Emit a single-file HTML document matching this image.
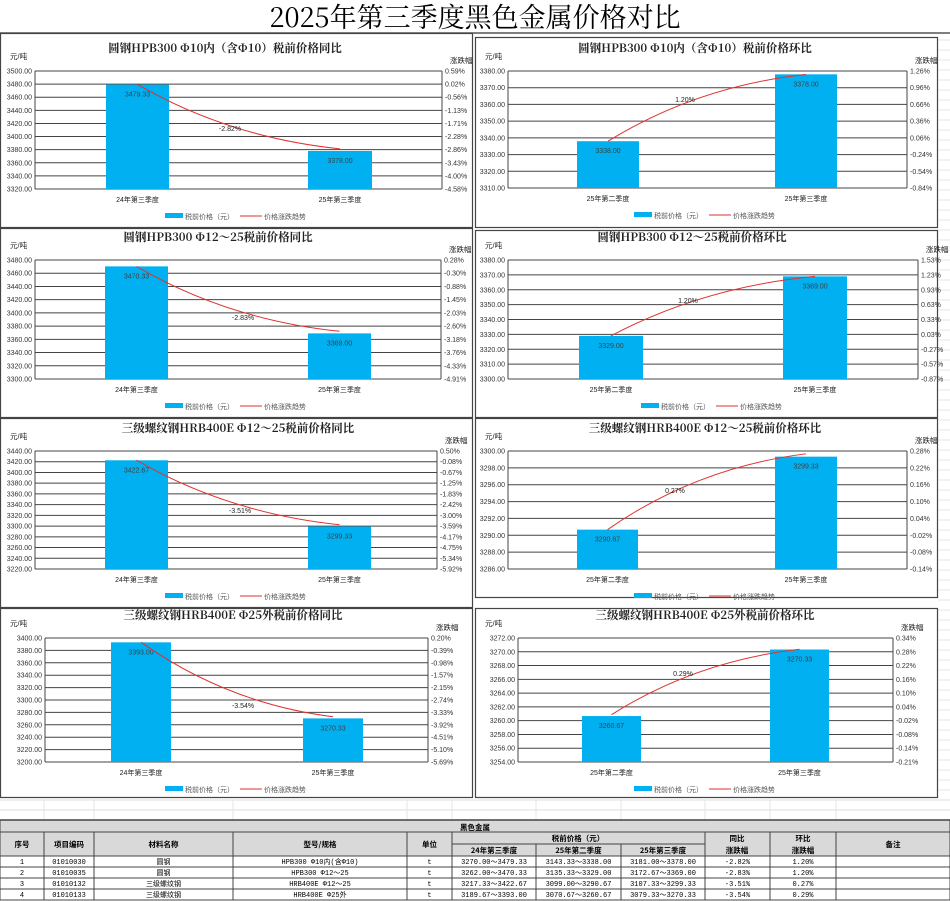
<!DOCTYPE html>
<html><head><meta charset="utf-8"><style>
body{margin:0;background:#fff;width:950px;height:901px;overflow:hidden;font-family:"Liberation Sans","Noto Sans CJK SC",sans-serif}
svg{position:absolute;left:0;top:0}
</style></head><body>
<svg id="s" width="950" height="901" xmlns="http://www.w3.org/2000/svg">
<rect width="950" height="901" fill="#fff"/>
<text x="475" y="27" text-anchor="middle" font-size="27" font-family="'Noto Serif CJK SC','Liberation Serif',serif" fill="#000">2025年第三季度黑色金属价格对比</text>
<line x1="0" y1="33" x2="950" y2="33" stroke="#555" stroke-width="1.5"/>
</svg>
<script>
var s=document.getElementById('s');var h='';
function T(x,y,t,o){o=o||{};h+='<text x="'+x+'" y="'+y+'" font-size="'+(o.fs||7)+'" text-anchor="'+(o.a||'start')+'" fill="'+(o.c||'#333')+'"'+(o.b?' font-weight="bold"':'')+(o.ff?' font-family="'+o.ff+'"':'')+'>'+t+'</text>';}
var C=[
{px:[0,33,473,228],x1:35,x2:442,y1:71,y2:189,b:[[106,169],[308,372]],L:['3500.00','3480.00','3460.00','3440.00','3420.00','3400.00','3380.00','3360.00','3340.00','3320.00'],R:['0.59%','0.02%','-0.56%','-1.13%','-1.71%','-2.28%','-2.86%','-3.43%','-4.00%','-4.58%'],v:[3479.33,3378],vl:['3479.33','3378.00'],p:-2.82,pl:'-2.82%',plx:230,ply:131,t:'圆钢HPB300 Φ10内（含Φ10）税前价格同比',tx:225,xl:['24年第三季度','25年第三季度'],lg:236},
{px:[475,37,938,228],x1:508,x2:907,y1:71,y2:188,b:[[577,639],[775,837]],L:['3380.00','3370.00','3360.00','3350.00','3340.00','3330.00','3320.00','3310.00'],R:['1.26%','0.96%','0.66%','0.36%','0.06%','-0.24%','-0.54%','-0.84%'],v:[3338,3378],vl:['3338.00','3378.00'],p:1.20,pl:'1.20%',plx:685,ply:102,t:'圆钢HPB300 Φ10内（含Φ10）税前价格环比',tx:695,xl:['25年第二季度','25年第三季度'],lg:705},
{px:[0,228,473,418],x1:35,x2:441,y1:260,y2:379,b:[[105,168],[308,371]],L:['3480.00','3460.00','3440.00','3420.00','3400.00','3380.00','3360.00','3340.00','3320.00','3300.00'],R:['0.28%','-0.30%','-0.88%','-1.45%','-2.03%','-2.60%','-3.18%','-3.76%','-4.33%','-4.91%'],v:[3470.33,3369],vl:['3470.33','3369.00'],p:-2.83,pl:'-2.83%',plx:243,ply:320,t:'圆钢HPB300 Φ12～25税前价格同比',tx:218,xl:['24年第三季度','25年第三季度'],lg:236},
{px:[475,230,938,418],x1:508,x2:918,y1:260,y2:379,b:[[579,643],[783,847]],L:['3380.00','3370.00','3360.00','3350.00','3340.00','3330.00','3320.00','3310.00','3300.00'],R:['1.53%','1.23%','0.93%','0.63%','0.33%','0.03%','-0.27%','-0.57%','-0.87%'],v:[3329,3369],vl:['3329.00','3369.00'],p:1.20,pl:'1.20%',plx:688,ply:303,t:'圆钢HPB300 Φ12～25税前价格环比',tx:692,xl:['25年第二季度','25年第三季度'],lg:712},
{px:[0,418,473,608],x1:35,x2:437,y1:451,y2:569,b:[[105,168],[308,371]],L:['3440.00','3420.00','3400.00','3380.00','3360.00','3340.00','3320.00','3300.00','3280.00','3260.00','3240.00','3220.00'],R:['0.50%','-0.08%','-0.67%','-1.25%','-1.83%','-2.42%','-3.00%','-3.59%','-4.17%','-4.75%','-5.34%','-5.92%'],v:[3422.67,3299.33],vl:['3422.67','3299.33'],p:-3.51,pl:'-3.51%',plx:240,ply:513,t:'三级螺纹钢HRB400E Φ12～25税前价格同比',tx:238,xl:['24年第三季度','25年第三季度'],lg:236},
{px:[475,418,938,598],x1:508,x2:907,y1:451,y2:569,b:[[577,638],[775,837]],L:['3300.00','3298.00','3296.00','3294.00','3292.00','3290.00','3288.00','3286.00'],R:['0.28%','0.22%','0.16%','0.10%','0.04%','-0.02%','-0.08%','-0.14%'],v:[3290.67,3299.33],vl:['3290.67','3299.33'],p:0.27,pl:'0.27%',plx:675,ply:493,t:'三级螺纹钢HRB400E Φ12～25税前价格环比',tx:705,xl:['25年第二季度','25年第三季度'],lg:705},
{px:[0,608,473,798],x1:45,x2:428,y1:638,y2:762,b:[[111,171],[303,363]],L:['3400.00','3380.00','3360.00','3340.00','3320.00','3300.00','3280.00','3260.00','3240.00','3220.00','3200.00'],R:['0.20%','-0.39%','-0.98%','-1.57%','-2.15%','-2.74%','-3.33%','-3.92%','-4.51%','-5.10%','-5.69%'],v:[3393,3270.33],vl:['3393.00','3270.33'],p:-3.54,pl:'-3.54%',plx:243,ply:708,t:'三级螺纹钢HRB400E Φ25外税前价格同比',tx:233,xl:['24年第三季度','25年第三季度'],lg:236},
{px:[475,608,938,798],x1:518,x2:893,y1:638,y2:762,b:[[582,641],[770,829]],L:['3272.00','3270.00','3268.00','3266.00','3264.00','3262.00','3260.00','3258.00','3256.00','3254.00'],R:['0.34%','0.28%','0.22%','0.16%','0.10%','0.04%','-0.02%','-0.08%','-0.14%','-0.21%'],v:[3260.67,3270.33],vl:['3260.67','3270.33'],p:0.29,pl:'0.29%',plx:683,ply:676,t:'三级螺纹钢HRB400E Φ25外税前价格环比',tx:705,xl:['25年第二季度','25年第三季度'],lg:705}
];
[800,810,820].forEach(function(y){h+='<line x1="0" y1="'+y+'" x2="950" y2="'+y+'" stroke="#ddd"/>';});
[44,94,233,407,452,536,621,705,770,836].forEach(function(x){h+='<line x1="'+x+'" y1="800" x2="'+x+'" y2="820" stroke="#e4e4e4"/>';});
for(var y=40;y<800;y+=10){h+='<line x1="938" y1="'+y+'" x2="950" y2="'+y+'" stroke="#e6e6e6"/>';}
C.forEach(function(c){
var P=c.px;h+='<rect x="'+(P[0]+0.5)+'" y="'+(P[1]+0.5)+'" width="'+(P[2]-P[0]-1)+'" height="'+(P[3]-P[1]-1)+'" fill="#fff" stroke="#444" stroke-width="1.2"/>';
var n=c.L.length,st=(c.y2-c.y1)/(n-1);
var lmax=parseFloat(c.L[0]),lmin=parseFloat(c.L[n-1]),rmax=parseFloat(c.R[0]),rmin=parseFloat(c.R[n-1]);
for(var i=0;i<n;i++){var y=c.y1+i*st;h+='<line x1="'+c.x1+'" y1="'+y+'" x2="'+c.x2+'" y2="'+y+'" stroke="#444" stroke-width="1"/>';
T(c.x1-3,y+2.5,c.L[i],{a:'end',fs:7});T(c.x2+3,y+2.5,c.R[i],{fs:7});}
h+='<line x1="'+c.x1+'" y1="'+c.y1+'" x2="'+c.x1+'" y2="'+c.y2+'" stroke="#444"/><line x1="'+c.x2+'" y1="'+c.y1+'" x2="'+c.x2+'" y2="'+c.y2+'" stroke="#444"/>';
function ly(v){return c.y2-(v-lmin)/(lmax-lmin)*(c.y2-c.y1);}
function ry(v){return c.y2-(v-rmin)/(rmax-rmin)*(c.y2-c.y1);}
var cx=[];
c.b.forEach(function(b,k){var yt=ly(c.v[k]);cx.push((b[0]+b[1])/2);
h+='<rect x="'+b[0]+'" y="'+yt+'" width="'+(b[1]-b[0])+'" height="'+(c.y2-yt)+'" fill="#00b0f0"/>';
T((b[0]+b[1])/2,yt+12,c.vl[k],{a:'middle',fs:7,c:'#404040'});});
var ya=ry(0),yb=ry(c.p),dx=cx[1]-cx[0],dy=yb-ya;
h+='<path d="M'+cx[0]+' '+ya+' Q'+(cx[0]+0.45*dx)+' '+(ya+0.82*dy)+' '+cx[1]+' '+yb+'" fill="none" stroke="#e0322f" stroke-width="1"/>';
T(c.plx,c.ply,c.pl,{a:'middle',fs:7,c:'#222'});
T(c.tx,c.y1-19,c.t,{a:'middle',fs:11.5,b:1,c:'#222',ff:"'Noto Serif CJK SC','Liberation Sans',serif"});
T(P[0]+10,c.y1-12,'元/吨',{fs:7.5,c:'#222'});
T(c.x2+8,c.y1-8,'涨跌幅',{fs:7.5,c:'#222'});
T((c.b[0][0]+c.b[0][1])/2,c.y2+13,c.xl[0],{a:'middle',fs:7,c:'#222'});
T((c.b[1][0]+c.b[1][1])/2,c.y2+13,c.xl[1],{a:'middle',fs:7,c:'#222'});
var L0=c.lg-71,ly0=c.y2+27;
h+='<rect x="'+L0+'" y="'+(ly0-3)+'" width="18" height="5" fill="#00b0f0"/>';
T(L0+20,ly0+3,'税前价格（元）',{fs:7,c:'#555'});
h+='<line x1="'+(L0+75)+'" y1="'+(ly0)+'" x2="'+(L0+97)+'" y2="'+ly0+'" stroke="#e0322f"/>';
T(L0+99,ly0+3,'价格涨跌趋势',{fs:7,c:'#555'});
});
var cols=[0,44,94,233,407,452,536,621,705,770,836,950];
h+='<rect x="0" y="820" width="950" height="36" fill="#d9d9d9"/>';
h+='<line x1="0" y1="820" x2="950" y2="820" stroke="#444" stroke-width="1.5"/>';
[832,856,867,878,889,900].forEach(function(y){h+='<line x1="0" y1="'+y+'" x2="950" y2="'+y+'" stroke="#444"/>';});
h+='<line x1="452" y1="844" x2="705" y2="844" stroke="#444"/>';
cols.forEach(function(x,i){var top=(i==0||i==11)?820:832;if(x==536||x==621)top=844;h+='<line x1="'+x+'" y1="'+top+'" x2="'+x+'" y2="900" stroke="#444"/>';});
var F="'Noto Sans CJK SC','Liberation Sans',sans-serif";
T(475,830,'黑色金属',{a:'middle',fs:7.5,b:1,c:'#000',ff:F});
var hd=['序号','项目编码','材料名称','型号/规格','单位'];
hd.forEach(function(t,i){T((cols[i]+cols[i+1])/2,847,t,{a:'middle',fs:7.5,b:1,c:'#000',ff:F});});
T(578,841,'税前价格（元）',{a:'middle',fs:7.5,b:1,c:'#000',ff:F});
['24年第三季度','25年第二季度','25年第三季度'].forEach(function(t,i){T((cols[5+i]+cols[6+i])/2,853,t,{a:'middle',fs:7.5,b:1,c:'#000',ff:F});});
T(737,841,'同比',{a:'middle',fs:7.5,b:1,c:'#000',ff:F});T(737,853,'涨跌幅',{a:'middle',fs:7.5,b:1,c:'#000',ff:F});
T(803,841,'环比',{a:'middle',fs:7.5,b:1,c:'#000',ff:F});T(803,853,'涨跌幅',{a:'middle',fs:7.5,b:1,c:'#000',ff:F});
T(893,847,'备注',{a:'middle',fs:7.5,b:1,c:'#000',ff:F});
var rows=[['1','01010030','圆钢','HPB300 Φ10内(含Φ10)','t','3270.00～3479.33','3143.33～3338.00','3181.00～3378.00','-2.82%','1.20%'],
['2','01010035','圆钢','HPB300 Φ12～25','t','3262.00～3470.33','3135.33～3329.00','3172.67～3369.00','-2.83%','1.20%'],
['3','01010132','三级螺纹钢','HRB400E Φ12～25','t','3217.33～3422.67','3099.00～3290.67','3107.33～3299.33','-3.51%','0.27%'],
['4','01010133','三级螺纹钢','HRB400E Φ25外','t','3189.67～3393.00','3070.67～3260.67','3079.33～3270.33','-3.54%','0.29%']];
rows.forEach(function(r,j){var y=864+j*11;r.forEach(function(t,i){T((cols[i]+cols[i+1])/2,y,t,{a:'middle',fs:7,c:'#000',ff:"'Liberation Mono','Noto Sans CJK SC',monospace"});});});
s.insertAdjacentHTML('beforeend',h);
</script>
</body></html>
